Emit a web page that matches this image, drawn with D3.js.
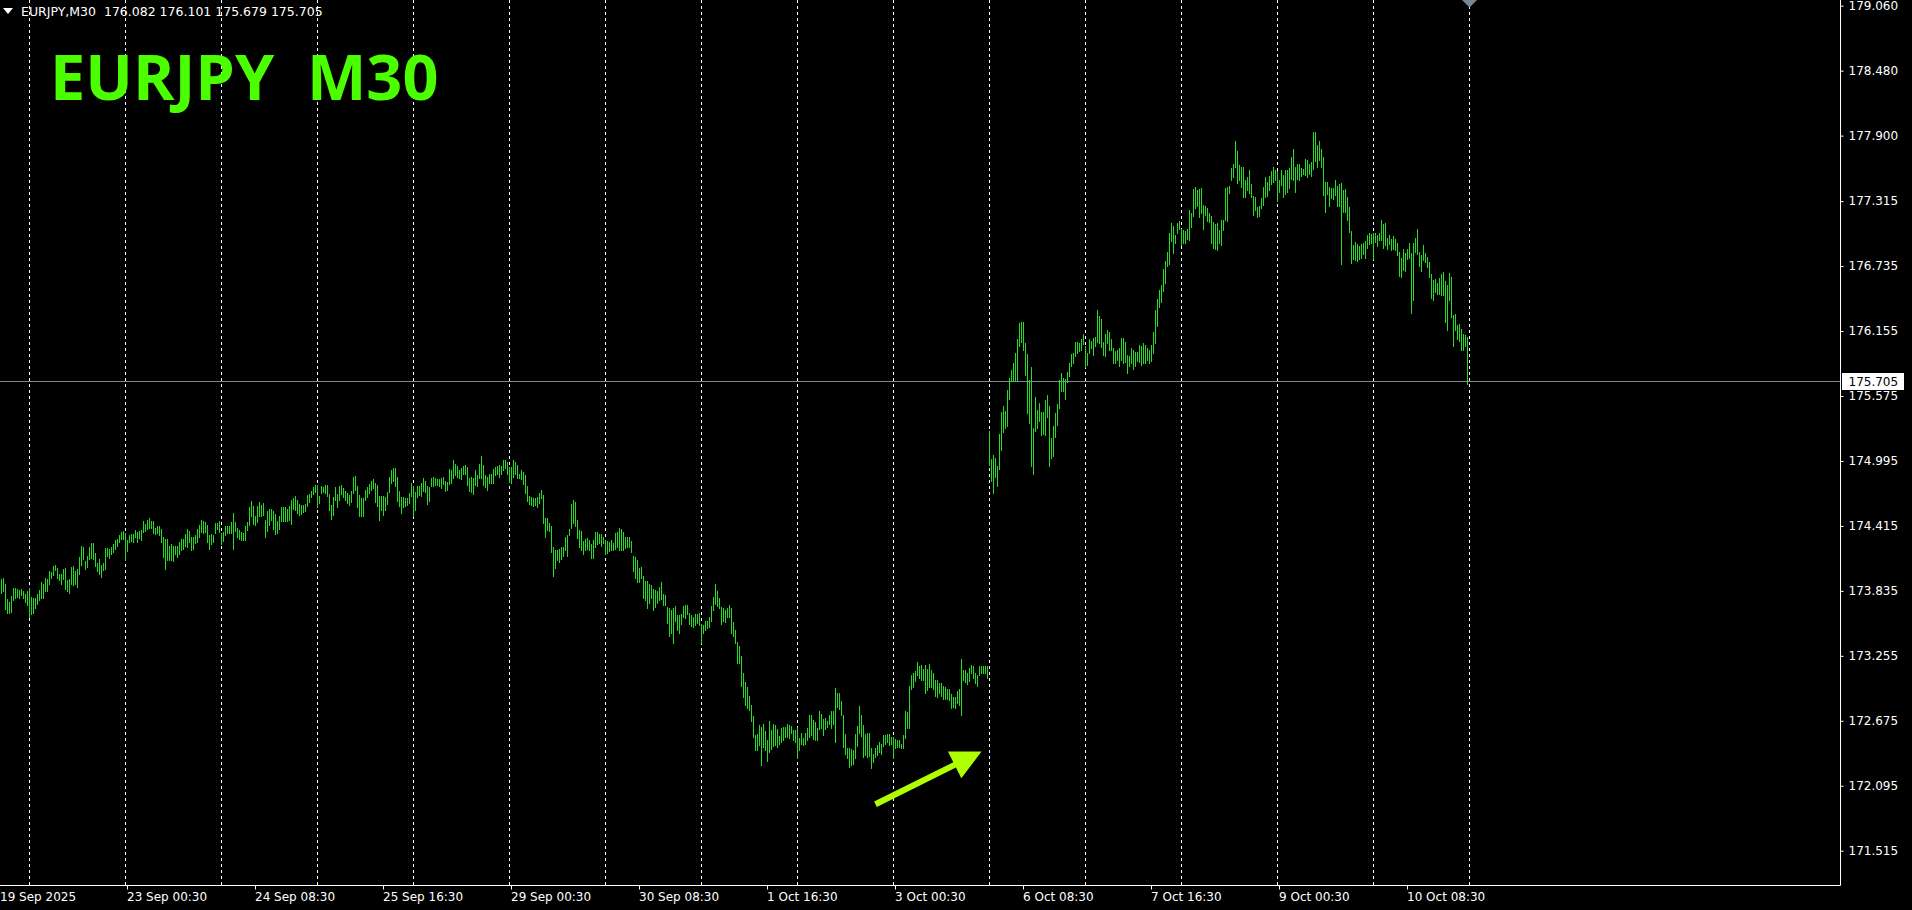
<!DOCTYPE html>
<html lang="en">
  <head>
    <meta charset="utf-8"/>
    <title>EURJPY M30</title>
    <script src="https://cdn.jsdelivr.net/npm/d3@7"></script>
    <style>
      html, body { margin: 0; padding: 0; background: #000; overflow: hidden; }
      #chart-holder { width: 1912px; height: 910px; }
      .axis text { font-family: "DejaVu Sans", sans-serif; font-size: 12px; fill: #ffffff; }
      .axis line { stroke: #ffffff; }
      .axis path { display: none; }
      .separator { stroke: #ffffff; stroke-dasharray: 3,3; }
      .bar { stroke: #22dd22; stroke-width: 1; }
    </style>
  </head>
  <body>
    <div id="chart-holder"></div>
    <script>

      // symbol, timeframe and the last bar (open, high, low, close)
      var symbol = "EURJPY";
      var period = "M30";
      var lastOHLC = [176.082, 176.101, 175.679, 175.705];
      var firstBarTime = "2025-09-19T17:00:00Z";

      // bar highs, 30 minute bars from 19 Sep 17:00 to 10 Oct 23:30
      var barHigh = [
        173.94,173.95,173.90,173.76,173.74,173.79,173.86,173.86,173.85,173.84,
        173.85,173.83,173.81,173.83,173.86,173.78,173.77,173.77,173.81,173.84,
        173.91,173.90,173.95,173.94,174.01,174.00,174.06,174.07,174.04,173.99,
        173.99,174.03,174.04,173.93,173.94,174.05,174.06,174.01,174.03,174.14,
        174.24,174.23,174.10,174.15,174.23,174.26,174.26,174.17,174.08,174.12,
        174.07,174.08,174.22,174.22,174.21,174.23,174.25,174.29,174.30,174.33,
        174.36,174.37,174.35,174.29,174.33,174.34,174.34,174.38,174.36,174.37,
        174.38,174.46,174.43,174.47,174.49,174.46,174.46,174.40,174.41,174.41,
        174.39,174.32,174.30,174.30,174.24,174.25,174.24,174.24,174.24,174.27,
        174.30,174.30,174.34,174.39,174.37,174.32,174.32,174.33,174.39,174.42,
        174.47,174.46,174.45,174.42,174.33,174.34,174.33,174.44,174.44,174.46,
        174.35,174.36,174.41,174.41,174.41,174.45,174.53,174.45,174.40,174.38,
        174.36,174.35,174.41,174.45,174.58,174.64,174.59,174.50,174.59,174.63,
        174.60,174.62,174.47,174.55,174.57,174.57,174.55,174.52,174.46,174.50,
        174.58,174.58,174.58,174.57,174.59,174.65,174.66,174.68,174.65,174.61,
        174.60,174.60,174.61,174.69,174.70,174.73,174.76,174.78,174.78,174.68,
        174.77,174.76,174.78,174.78,174.70,174.60,174.67,174.76,174.70,174.77,
        174.78,174.75,174.73,174.71,174.69,174.73,174.85,174.86,174.77,174.69,
        174.66,174.66,174.74,174.76,174.79,174.82,174.83,174.80,174.78,174.68,
        174.68,174.68,174.67,174.72,174.85,174.91,174.93,174.93,174.85,174.73,
        174.67,174.67,174.66,174.66,174.71,174.80,174.77,174.72,174.77,174.77,
        174.80,174.84,174.82,174.77,174.76,174.84,174.85,174.84,174.83,174.83,
        174.84,174.85,174.82,174.81,174.92,174.91,175.00,174.97,174.95,174.91,
        174.93,174.95,174.96,174.94,174.84,174.85,174.84,174.91,174.87,174.97,
        175.04,174.96,174.87,174.85,174.88,174.88,174.92,174.94,174.95,174.96,
        174.95,175.00,175.00,174.99,174.94,174.94,175.00,174.99,174.96,174.88,
        174.91,174.90,174.87,174.77,174.68,174.67,174.66,174.66,174.67,174.71,
        174.74,174.69,174.49,174.49,174.44,174.41,174.23,174.20,174.20,174.21,
        174.23,174.23,174.32,174.33,174.39,174.61,174.65,174.63,174.47,174.38,
        174.37,174.28,174.30,174.31,174.29,174.25,174.29,174.36,174.36,174.34,
        174.34,174.32,174.29,174.28,174.27,174.29,174.26,174.35,174.36,174.40,
        174.39,174.36,174.32,174.32,174.32,174.28,174.15,174.14,174.11,174.04,
        174.05,173.97,173.92,173.92,173.90,173.89,173.85,173.84,173.83,173.87,
        173.91,173.81,173.80,173.69,173.68,173.66,173.68,173.70,173.62,173.62,
        173.63,173.70,173.71,173.71,173.64,173.62,173.60,173.63,173.63,173.64,
        173.54,173.53,173.57,173.57,173.60,173.70,173.78,173.90,173.83,173.77,
        173.69,173.68,173.66,173.68,173.71,173.68,173.56,173.49,173.38,173.34,
        173.25,173.10,173.02,172.98,172.90,172.82,172.72,172.55,172.56,172.64,
        172.62,172.65,172.58,172.50,172.67,172.59,172.65,172.64,172.60,172.54,
        172.61,172.62,172.62,172.65,172.64,172.63,172.59,172.59,172.62,172.52,
        172.57,172.52,172.57,172.61,172.73,172.73,172.68,172.66,172.61,172.76,
        172.74,172.69,172.70,172.67,172.73,172.76,172.76,172.97,172.92,172.92,
        172.85,172.73,172.56,172.43,172.43,172.42,172.41,172.56,172.63,172.81,
        172.73,172.64,172.56,172.57,172.57,172.43,172.38,172.43,172.46,172.49,
        172.47,172.55,172.55,172.56,172.56,172.53,172.53,172.51,172.50,172.50,
        172.47,172.55,172.76,172.75,172.99,173.08,173.10,173.12,173.20,173.16,
        173.17,173.14,173.17,173.14,173.18,173.13,173.10,173.04,173.04,173.01,
        173.01,172.99,172.98,172.96,172.96,172.91,172.89,172.89,172.94,172.96,
        173.23,173.13,173.13,173.10,173.15,173.17,173.16,173.10,173.08,173.16,
        173.16,173.16,173.16,173.16,175.26,175.01,175.05,175.02,174.95,175.24,
        175.43,175.49,175.44,175.63,175.74,175.81,175.87,175.96,176.08,176.23,
        176.24,176.24,176.05,175.95,175.72,175.83,175.29,175.57,175.45,175.51,
        175.43,175.43,175.54,175.58,175.49,175.20,175.31,175.42,175.50,175.72,
        175.78,175.74,175.73,175.79,175.87,175.95,175.96,176.06,176.06,176.05,
        176.08,176.13,176.02,175.96,176.08,176.07,176.09,176.10,176.34,176.29,
        176.26,176.06,176.13,176.16,176.15,176.08,176.00,175.98,175.99,176.00,
        176.09,176.09,176.06,175.94,175.93,176.00,175.99,175.97,175.97,176.03,
        176.02,176.05,176.03,176.00,175.99,176.03,176.15,176.34,176.44,176.52,
        176.57,176.71,176.78,176.86,177.03,177.12,177.09,177.01,177.12,177.14,
        177.07,177.06,177.05,177.07,177.24,177.21,177.42,177.44,177.41,177.42,
        177.43,177.28,177.27,177.25,177.21,177.18,177.13,177.11,177.12,177.06,
        177.15,177.15,177.43,177.44,177.45,177.61,177.65,177.85,177.76,177.64,
        177.62,177.62,177.50,177.53,177.59,177.47,177.36,177.35,177.26,177.27,
        177.34,177.44,177.53,177.49,177.54,177.58,177.62,177.59,177.58,177.50,
        177.59,177.55,177.59,177.59,177.61,177.71,177.78,177.62,177.65,177.65,
        177.61,177.60,177.69,177.68,177.65,177.66,177.93,177.93,177.82,177.85,
        177.78,177.71,177.49,177.49,177.44,177.43,177.43,177.50,177.45,177.47,
        177.48,177.41,177.42,177.35,177.26,177.05,176.92,176.95,176.93,176.91,
        176.93,176.94,176.96,177.01,177.03,177.02,177.03,177.03,177.01,177.03,
        177.15,177.11,177.12,176.99,177.01,176.98,177.00,176.98,176.94,176.86,
        176.81,176.89,176.85,176.89,176.94,176.85,176.94,176.99,177.07,176.86,
        176.83,176.92,176.85,176.82,176.77,176.66,176.61,176.62,176.58,176.63,
        176.66,176.68,176.60,176.57,176.67,176.64,176.30,176.31,176.21,176.22,
        176.17,176.13,176.12,176.10
      ];

      // bar lows, same bars
      var barLow = [
        173.82,173.83,173.67,173.64,173.64,173.65,173.75,173.77,173.78,173.77,
        173.80,173.77,173.74,173.71,173.60,173.63,173.64,173.68,173.72,173.75,
        173.77,173.77,173.83,173.83,173.90,173.95,173.98,174.02,173.95,173.93,
        173.90,173.94,173.85,173.83,173.82,173.90,173.89,173.90,173.87,173.99,
        174.07,174.12,174.03,174.05,174.12,174.13,174.12,174.06,174.01,173.99,
        173.96,174.02,174.03,174.15,174.13,174.16,174.18,174.21,174.24,174.27,
        174.30,174.30,174.11,174.19,174.27,174.28,174.27,174.32,174.27,174.31,
        174.29,174.36,174.37,174.39,174.40,174.40,174.35,174.34,174.35,174.33,
        174.27,174.14,174.03,174.11,174.11,174.11,174.10,174.16,174.14,174.16,
        174.20,174.21,174.24,174.23,174.27,174.20,174.21,174.26,174.27,174.32,
        174.36,174.35,174.36,174.27,174.21,174.25,174.27,174.35,174.39,174.36,
        174.25,174.28,174.33,174.35,174.35,174.35,174.21,174.37,174.32,174.30,
        174.29,174.29,174.29,174.38,174.42,174.50,174.43,174.42,174.45,174.50,
        174.50,174.51,174.32,174.37,174.42,174.47,174.39,174.34,174.35,174.39,
        174.46,174.46,174.46,174.46,174.47,174.43,174.57,174.56,174.53,174.51,
        174.52,174.54,174.55,174.59,174.63,174.67,174.70,174.72,174.58,174.62,
        174.71,174.72,174.71,174.68,174.56,174.48,174.51,174.65,174.58,174.65,
        174.70,174.67,174.65,174.62,174.60,174.63,174.71,174.74,174.58,174.50,
        174.50,174.50,174.65,174.67,174.71,174.74,174.75,174.63,174.59,174.47,
        174.56,174.51,174.56,174.61,174.72,174.80,174.82,174.77,174.64,174.59,
        174.53,174.58,174.59,174.60,174.62,174.68,174.50,174.56,174.67,174.69,
        174.68,174.73,174.72,174.61,174.64,174.77,174.77,174.78,174.78,174.77,
        174.75,174.79,174.73,174.74,174.79,174.80,174.84,174.87,174.85,174.84,
        174.83,174.88,174.88,174.78,174.73,174.72,174.70,174.78,174.77,174.84,
        174.84,174.78,174.76,174.74,174.80,174.80,174.80,174.87,174.88,174.85,
        174.88,174.91,174.93,174.88,174.81,174.80,174.85,174.88,174.84,174.84,
        174.83,174.79,174.71,174.64,174.61,174.60,174.59,174.60,174.58,174.62,
        174.66,174.44,174.32,174.38,174.37,174.18,173.97,174.04,174.11,174.09,
        174.12,174.15,174.20,174.15,174.33,174.40,174.44,174.41,174.31,174.23,
        174.20,174.16,174.20,174.21,174.20,174.13,174.13,174.23,174.25,174.26,
        174.24,174.26,174.16,174.17,174.19,174.20,174.20,174.21,174.23,174.20,
        174.20,174.20,174.22,174.23,174.23,174.18,174.01,173.95,173.91,173.91,
        173.95,173.77,173.75,173.68,173.73,173.77,173.66,173.69,173.73,173.75,
        173.76,173.71,173.71,173.55,173.43,173.46,173.37,173.57,173.49,173.46,
        173.54,173.60,173.59,173.63,173.54,173.52,173.51,173.53,173.55,173.53,
        173.37,173.46,173.49,173.50,173.51,173.57,173.66,173.72,173.70,173.68,
        173.54,173.57,173.56,173.60,173.60,173.46,173.43,173.37,173.19,173.19,
        172.99,172.89,172.82,172.79,172.77,172.67,172.53,172.41,172.41,172.46,
        172.28,172.44,172.41,172.32,172.40,172.42,172.45,172.46,172.44,172.47,
        172.49,172.50,172.53,172.53,172.52,172.57,172.50,172.49,172.34,172.41,
        172.47,172.46,172.47,172.50,172.53,172.55,172.51,172.50,172.50,172.60,
        172.61,172.55,172.60,172.62,172.65,172.61,172.65,172.49,172.80,172.78,
        172.73,172.44,172.38,172.34,172.26,172.28,172.29,172.34,172.45,172.57,
        172.54,172.35,172.37,172.35,172.36,172.25,172.31,172.35,172.37,172.40,
        172.38,172.45,172.47,172.49,172.46,172.47,172.34,172.43,172.44,172.44,
        172.43,172.43,172.52,172.61,172.61,172.96,172.98,173.03,173.08,173.06,
        173.04,173.04,172.92,172.95,172.98,172.98,172.96,172.90,172.89,172.92,
        172.90,172.87,172.87,172.87,172.86,172.79,172.80,172.79,172.83,172.82,
        172.73,173.04,173.02,173.00,173.03,173.10,173.06,173.01,172.99,173.08,
        173.10,173.10,173.10,173.06,174.96,174.82,174.71,174.85,174.77,174.92,
        175.09,175.25,175.29,175.31,175.55,175.71,175.71,175.71,175.71,176.02,
        176.06,175.99,175.76,175.42,175.33,174.95,174.88,175.26,175.29,175.35,
        175.23,175.24,175.23,175.39,174.95,175.02,175.04,175.21,175.32,175.47,
        175.62,175.62,175.55,175.70,175.75,175.84,175.87,175.93,175.96,175.98,
        175.99,176.04,175.83,175.85,175.96,176.00,175.94,176.02,176.06,176.05,
        176.01,175.94,175.93,176.05,175.99,175.99,175.87,175.87,175.90,175.84,
        175.90,175.87,175.88,175.78,175.84,175.87,175.82,175.84,175.89,175.88,
        175.85,175.87,175.87,175.90,175.87,175.89,175.96,176.05,176.20,176.37,
        176.41,176.51,176.58,176.74,176.75,176.96,176.85,176.94,177.03,177.07,
        176.92,176.94,176.94,176.98,176.97,177.08,177.18,177.25,177.27,177.17,
        177.21,177.07,177.19,177.14,177.13,176.94,176.90,176.89,176.88,176.94,
        176.92,177.06,177.15,177.14,177.39,177.50,177.53,177.62,177.48,177.50,
        177.44,177.35,177.35,177.41,177.39,177.35,177.19,177.24,177.17,177.18,
        177.25,177.28,177.35,177.36,177.41,177.47,177.49,177.50,177.32,177.40,
        177.46,177.35,177.38,177.40,177.43,177.51,177.50,177.40,177.51,177.50,
        177.54,177.56,177.55,177.53,177.56,177.54,177.60,177.67,177.62,177.68,
        177.62,177.37,177.22,177.38,177.27,177.34,177.33,177.37,177.27,177.27,
        176.75,177.22,177.22,177.15,177.04,176.76,176.80,176.79,176.78,176.80,
        176.81,176.84,176.81,176.90,176.93,176.94,176.80,176.95,176.91,176.97,
        176.97,176.90,176.92,176.89,176.93,176.88,176.89,176.88,176.83,176.65,
        176.64,176.70,176.69,176.80,176.81,176.32,176.43,176.86,176.84,176.74,
        176.69,176.79,176.77,176.73,176.64,176.45,176.43,176.50,176.49,176.49,
        176.48,176.48,176.24,176.16,176.43,176.28,176.02,176.16,176.08,176.07,
        175.99,175.99,176.02,175.68
      ];

      // price scale labels on the right
      var yTicks = [179.060, 178.480, 177.900, 177.315, 176.735, 176.155, 175.575,
                    174.995, 174.415, 173.835, 173.255, 172.675, 172.095, 171.515];

      // annotation arrow, from / to as [bar index, price]
      var arrowFrom = [437, 171.93];
      var arrowTo = [490, 172.40];

      if (barHigh.length != barLow.length) console.error("high/low length mismatch");

      // chart size
      var w = 1912;
      var h = 910;
      var plotRight = 1840.5;
      var plotBottom = 885.5;
      var barStep = 2; // pixels per bar at this zoom

      var svg = d3.select("#chart-holder")
        .append("svg")
        .attr("width", w)
        .attr("height", h)
        .style("background", "#000")
      ;

      // open times of the bars, weekends skipped (one extra for the next session)
      var barTime = [];
      var t = new Date(firstBarTime);
      for (i = 0; i <= barHigh.length; i++) {
        barTime.push(new Date(t.getTime()));
        t = new Date(t.getTime() + 30 * 60000);
        if (t.getUTCDay() == 6) t = new Date(t.getTime() + 2 * 86400000);
      }

      // scales: bar index -> x, price -> y
      var x = d3.scaleLinear()
        .domain([0, barHigh.length])
        .range([1.5, 1.5 + barStep * barHigh.length])
      ;
      var y = d3.scaleLinear()
        .domain([171.515, 179.060])
        .range([850.7, 5.7])
      ;

      // day separators
      var sepIdx = d3.range(1, barTime.length).filter(function(k) {
        return barTime[k].getUTCDate() != barTime[k - 1].getUTCDate();
      });
      svg.append("g")
        .selectAll("line")
        .data(sepIdx)
        .enter()
        .append("line")
        .attr("class", "separator")
        .attr("x1", function(d) { return Math.floor(x(d)) + 0.5; })
        .attr("x2", function(d) { return Math.floor(x(d)) + 0.5; })
        .attr("y1", 0)
        .attr("y2", plotBottom)
      ;

      // current price line
      var lastPrice = lastOHLC[3];
      var yLast = Math.round(y(lastPrice)) + 0.5;
      svg.append("line")
        .attr("x1", 0)
        .attr("x2", plotRight)
        .attr("y1", yLast)
        .attr("y2", yLast)
        .attr("stroke", "#778899")
        .attr("stroke-width", 1)
      ;

      // bars (high-low lines)
      svg.append("g")
        .attr("shape-rendering", "crispEdges")
        .selectAll("line")
        .data(d3.range(barHigh.length))
        .enter()
        .append("line")
        .attr("class", "bar")
        .attr("x1", function(k) { return Math.floor(x(k)) + 0.5; })
        .attr("x2", function(k) { return Math.floor(x(k)) + 0.5; })
        .attr("y1", function(k) { return Math.round(y(barHigh[k])); })
        .attr("y2", function(k) { return Math.round(y(barLow[k])) + 1; })
      ;

      // frame: right price scale line and bottom time scale line
      svg.append("line")
        .attr("x1", plotRight).attr("x2", plotRight)
        .attr("y1", 0).attr("y2", plotBottom)
        .attr("stroke", "#ffffff")
      ;
      svg.append("line")
        .attr("x1", 0).attr("x2", plotRight)
        .attr("y1", plotBottom).attr("y2", plotBottom)
        .attr("stroke", "#ffffff")
      ;

      // price axis
      svg.append("g")
        .attr("class", "axis")
        .attr("transform", "translate(" + plotRight + ",0)")
        .call(d3.axisRight(y)
          .tickValues(yTicks)
          .tickSize(3)
          .tickPadding(5)
          .tickFormat(d3.format(".3f")))
      ;

      // current price label
      svg.append("rect")
        .attr("x", plotRight + 1.5)
        .attr("y", yLast - 8.5)
        .attr("width", 62)
        .attr("height", 17)
        .attr("fill", "#ffffff")
      ;
      svg.append("text")
        .attr("x", plotRight + 8)
        .attr("y", yLast)
        .attr("dy", "0.35em")
        .style("font-family", "DejaVu Sans, sans-serif")
        .style("font-size", "12px")
        .attr("fill", "#000")
        .text(d3.format(".3f")(lastPrice))
      ;

      // time axis, a label every 64 bars
      var timeFmt = d3.utcFormat("%-d %b %H:%M");
      var xTickBars = d3.range(63, barHigh.length, 64);
      var xAxis = svg.append("g")
        .attr("class", "axis")
        .attr("transform", "translate(0," + plotBottom + ")")
        .call(d3.axisBottom(x)
          .tickValues(xTickBars)
          .tickSize(4)
          .tickPadding(3)
          .tickFormat(function(k) { return timeFmt(barTime[k]); }))
      ;
      xAxis.selectAll(".tick")
        .attr("transform", function(k) { return "translate(" + (Math.floor(x(k)) + 0.5) + ",0)"; })
      ;
      xAxis.selectAll("text")
        .attr("text-anchor", "start")
        .attr("x", -0.5)
      ;
      // first label carries the year
      xAxis.append("text")
        .attr("x", 0)
        .attr("y", 7)
        .attr("dy", "0.71em")
        .attr("text-anchor", "start")
        .text(d3.utcFormat("%-d %b %Y")(barTime[0]))
      ;

      // chart shift marker
      var xShift = Math.floor(x(barHigh.length)) + 0.5;
      svg.append("path")
        .attr("d", "M" + (xShift - 7.5) + ",0 L" + (xShift + 7.5) + ",0 L" + xShift + ",7.5 Z")
        .attr("fill", "#778899")
      ;

      // header line
      svg.append("path")
        .attr("d", "M3,8 L13,8 L8,14 Z")
        .attr("fill", "#ffffff")
      ;
      svg.append("text")
        .attr("x", 21)
        .attr("y", 16)
        .attr("xml:space", "preserve")
        .style("white-space", "pre")
        .style("font-family", "DejaVu Sans, sans-serif")
        .style("font-size", "12.5px")
        .attr("fill", "#ffffff")
        .text(symbol + "," + period + "  " + lastOHLC.map(d3.format(".3f")).join(" "))
      ;

      // big title
      svg.append("text")
        .attr("x", 50)
        .attr("y", 100)
        .attr("xml:space", "preserve")
        .style("white-space", "pre")
        .style("font-family", "'Open Sans', sans-serif")
        .style("font-weight", "700")
        .style("font-size", "63px")
        .attr("fill", "#4cff00")
        .text(symbol + "  " + period)
      ;

      // arrow annotation
      var ax0 = x(arrowFrom[0]), ay0 = y(arrowFrom[1]);
      var ax1 = x(arrowTo[0]), ay1 = y(arrowTo[1]);
      var ang = Math.atan2(ay1 - ay0, ax1 - ax0);
      var headLen = 30, headHalf = 15, shaftHalf = 3;
      var ux = Math.cos(ang), uy = Math.sin(ang);
      var px = -uy, py = ux;
      var bx = ax1 - ux * headLen, by = ay1 - uy * headLen;
      var pts = [
        [ax0 + px * shaftHalf, ay0 + py * shaftHalf],
        [bx + px * shaftHalf, by + py * shaftHalf],
        [bx + px * headHalf, by + py * headHalf],
        [ax1, ay1],
        [bx - px * headHalf, by - py * headHalf],
        [bx - px * shaftHalf, by - py * shaftHalf],
        [ax0 - px * shaftHalf, ay0 - py * shaftHalf]
      ];
      svg.append("path")
        .attr("d", d3.line()(pts) + "Z")
        .attr("fill", "#b0ff00")
      ;

    </script>
  </body>
</html>
